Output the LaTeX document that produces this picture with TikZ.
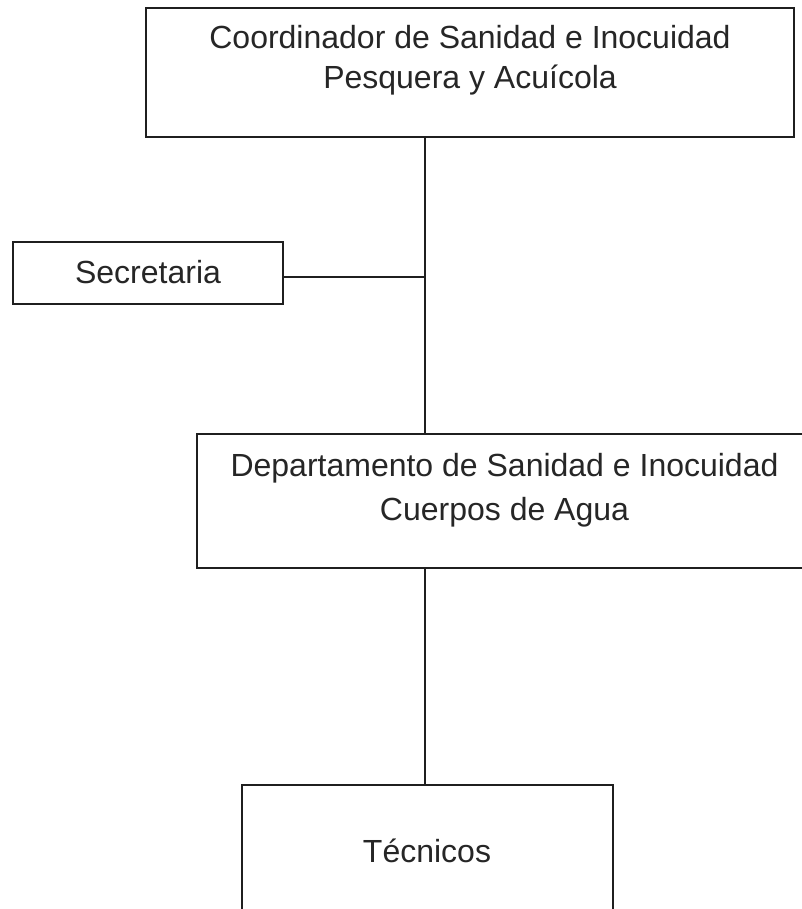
\documentclass[tikz,border=0pt]{standalone}
\usepackage{fontspec}
\setmainfont{Liberation Sans}
\begin{document}
\begin{tikzpicture}[x=1pt,y=-1pt,
  box/.style={draw=black!88,line width=2.2pt,rectangle,inner sep=0pt},
  lbl/.style={text=black!85,font=\fontsize{32}{40}\selectfont,align=center,inner sep=0pt},
  conn/.style={draw=black!88,line width=2.2pt}]
\clip (0,0) rectangle (802,909);
\fill[white] (0,0) rectangle (802,909);
% boxes
\node[box,minimum width=648pt,minimum height=129pt] (top) at (470,72.5) {};
\node[box,minimum width=270pt,minimum height=62pt] (sec) at (148,273) {};
\node[box,minimum width=615pt,minimum height=134pt] (dept) at (504.5,501) {};
\node[box,minimum width=371pt,minimum height=200pt] (tec) at (427.5,885) {};
% texts (anchor base = baseline of the last line)
\node[lbl,anchor=base] (toptxt) at (470,89) {Coordinador de Sanidad e Inocuidad\\Pesquera y Acuícola};
\node[lbl,anchor=base] (sectxt) at (148,283) {Secretaria};
\node[lbl,font=\fontsize{32}{44}\selectfont,anchor=base] (depttxt) at (504.5,520) {Departamento de Sanidad e Inocuidad\\Cuerpos de Agua};
\node[lbl,anchor=base] (tectxt) at (427,862) {Técnicos};
% connectors
\coordinate (sp) at (425,277);
\draw[conn] (top.south -| sp) -- (dept.north -| sp);
\draw[conn] (sec.east |- sp) -- (sp);
\draw[conn] (dept.south -| sp) -- (tec.north -| sp);
\end{tikzpicture}
\end{document}
